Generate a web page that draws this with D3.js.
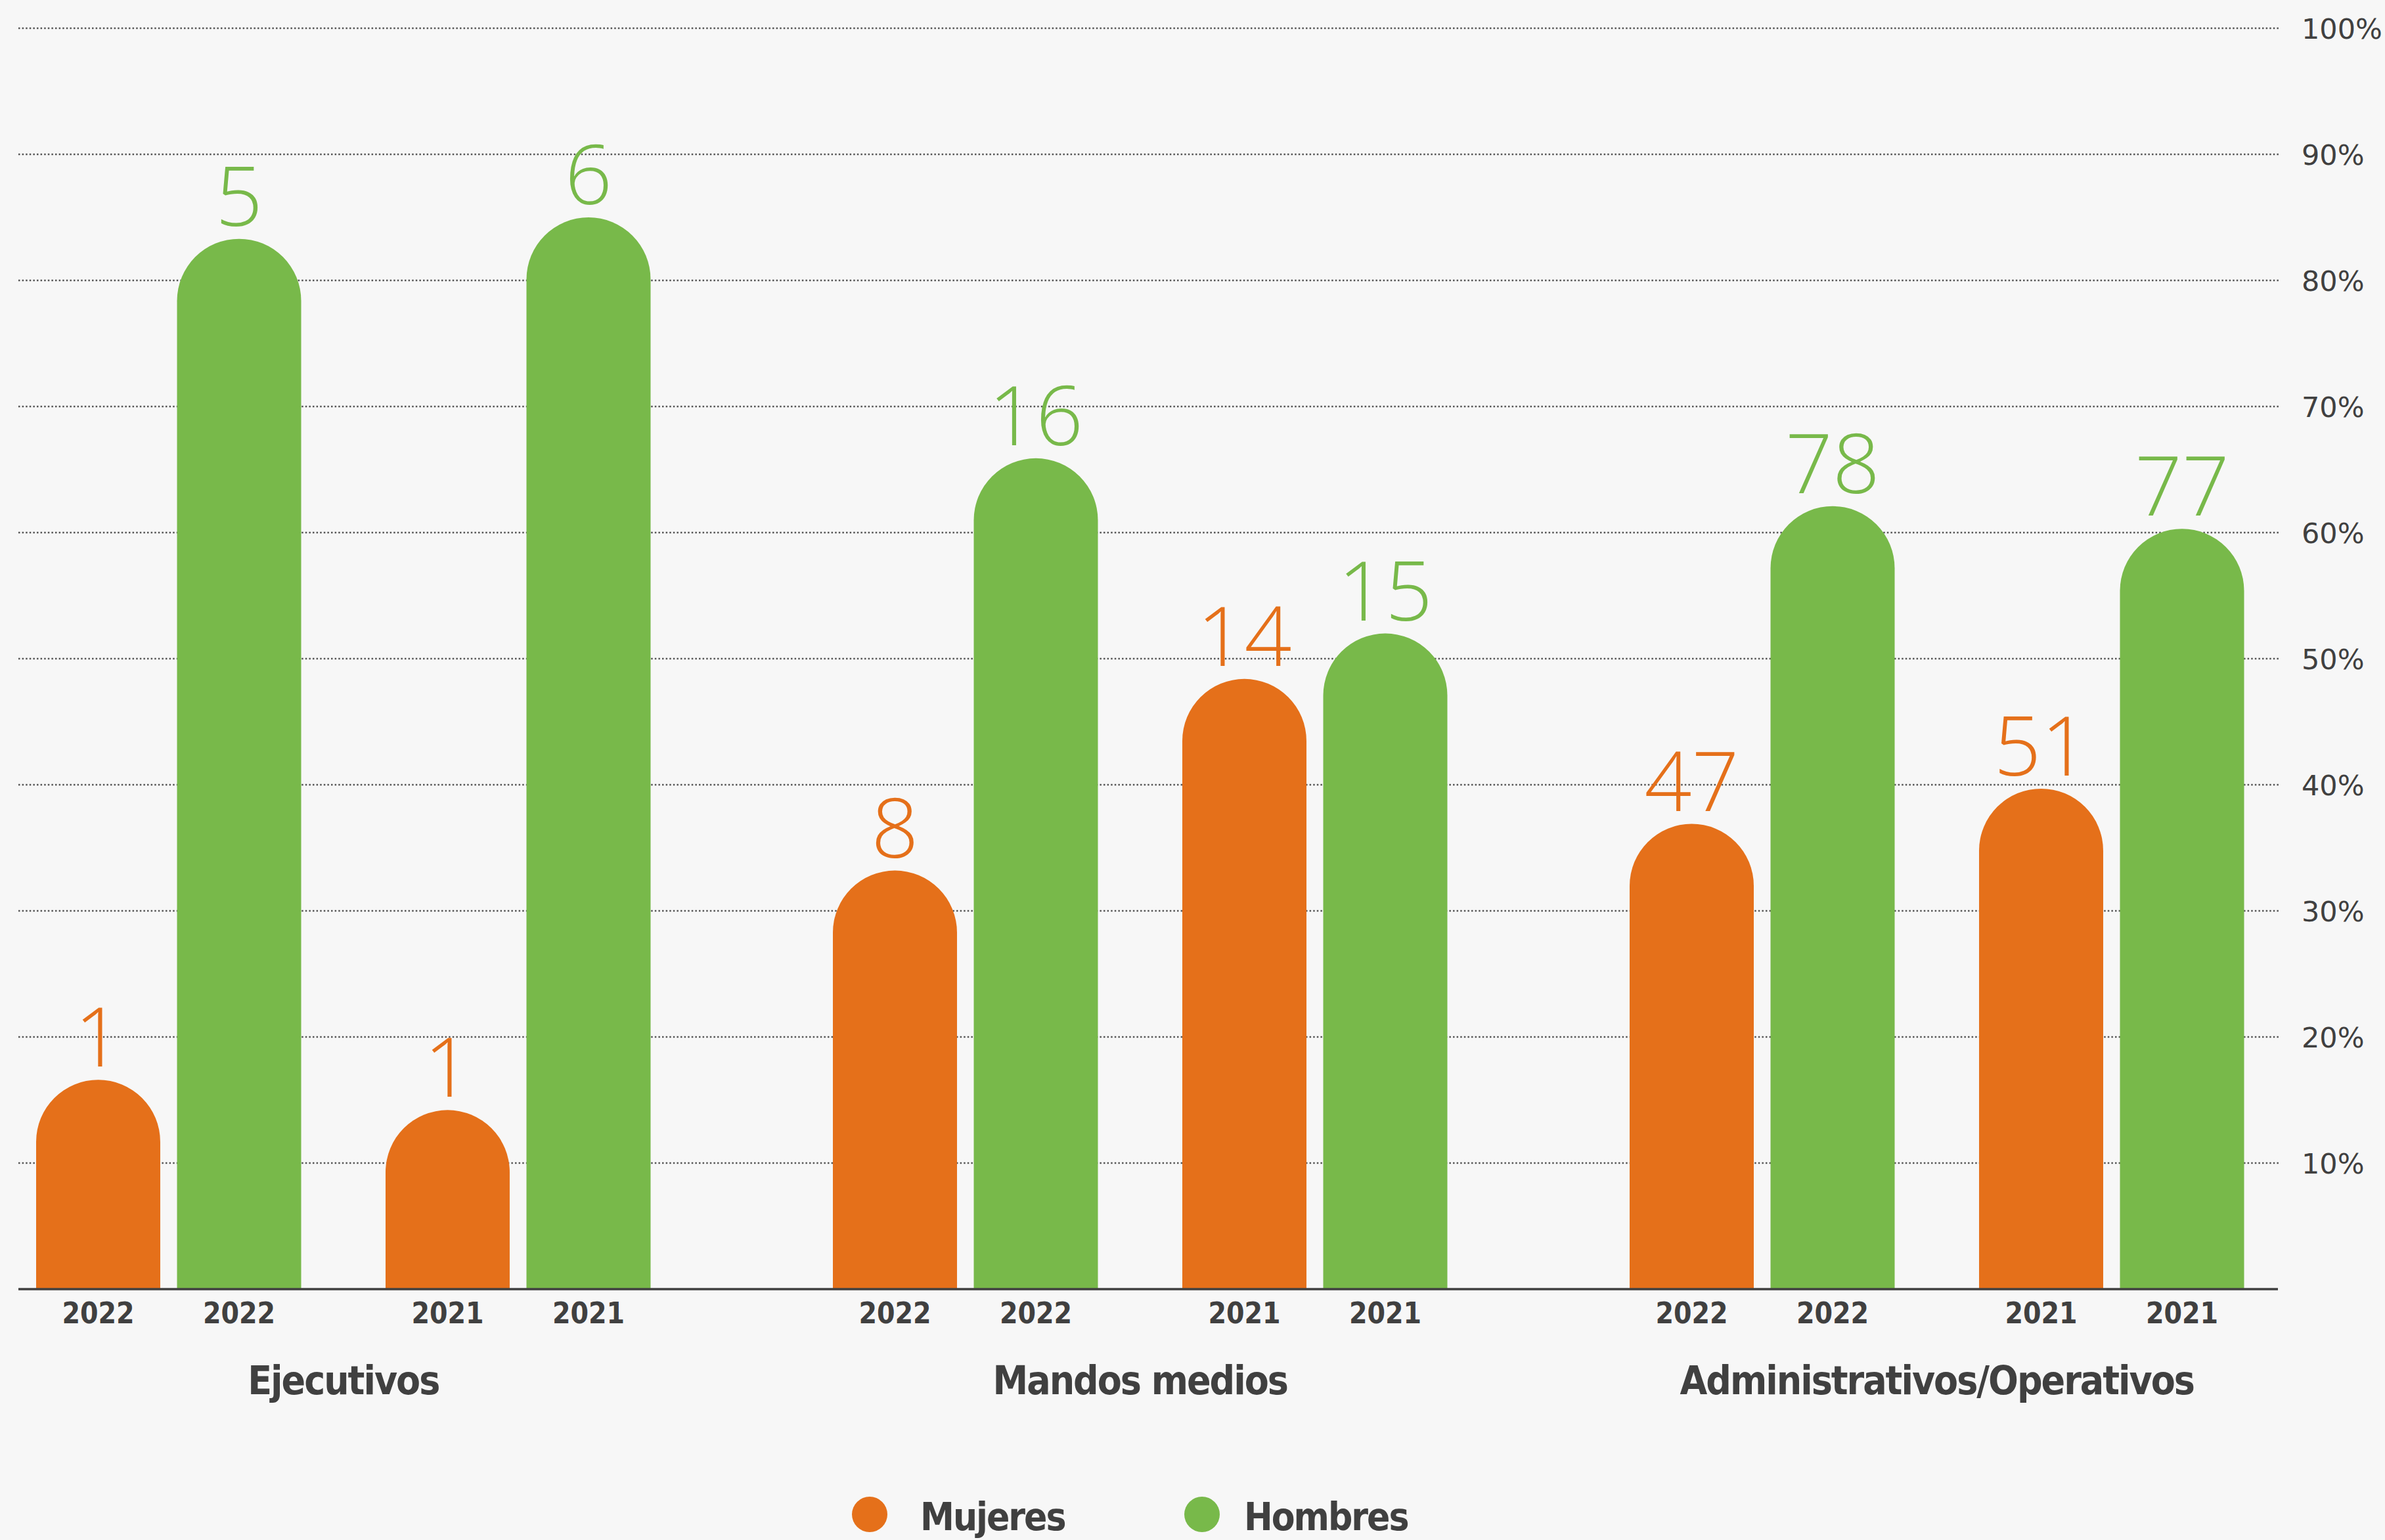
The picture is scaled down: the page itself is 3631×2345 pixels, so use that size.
<!DOCTYPE html>
<html>
<head>
<meta charset="utf-8">
<script src="https://cdn.jsdelivr.net/npm/d3@7"></script>
<style>
    body{ margin: 0; background: #f7f7f7; }
    #graph{ width: 3631px; height: 2345px; }
</style>
</head>
<body>
<div id="graph"></div>
<script>
//Groups along the x axis
const groups = ["Ejecutivos", "Mandos medios", "Administrativos/Operativos"];
//Years inside each group
const years = ["2022", "2021"];
//The two series
const series = ["Mujeres", "Hombres"];

//Bar heights in percent (group by group, 2022 then 2021)
const mujeres_pct = [16.6, 14.2, 33.2, 48.4, 36.9, 39.7];
const hombres_pct = [83.3, 85.0, 65.9, 52.0, 62.1, 60.3];
//Numbers printed above each bar
const mujeres_num = [1, 1, 8, 14, 47, 51];
const hombres_num = [5, 6, 16, 15, 78, 77];

//Right axis ticks
const y_ticks = [10, 20, 30, 40, 50, 60, 70, 80, 90, 100];

const colours = {"Mujeres": "#e5701a", "Hombres": "#78b94a"};
const dark = "#404040";

const width = 3631;
const height = 2345;

const svg = d3.select('#graph')
              .append('svg')
              .attr('width', width)
              .attr('height', height);

svg.append('rect')
   .attr('width', width)
   .attr('height', height)
   .attr('fill', '#f7f7f7');

//y scale: 0% sits on the base line, 100% on the top grid line
const y = d3.scaleLinear().domain([0, 100]).range([1963, 43]);

//nested band scales: group -> year -> sex
const x_group = d3.scaleBand().domain(groups).range([55, 55 + 3 * 1213]);
const x_year = d3.scaleBand().domain(years).range([0, 935.5]).paddingInner(0.2415);
const x_sex = d3.scaleBand().domain(series).range([0, 403.5]).paddingInner(0.119);

//build one record per bar
let bars = [];
for(let g = 0; g < groups.length; g++){
    for(let k = 0; k < years.length; k++){
        let i = g * years.length + k;
        bars.push({group: groups[g], year: years[k], sex: "Mujeres", pct: mujeres_pct[i], num: mujeres_num[i]});
        bars.push({group: groups[g], year: years[k], sex: "Hombres", pct: hombres_pct[i], num: hombres_num[i]});
    }
}
const barX = (d) => x_group(d.group) + x_year(d.year) + x_sex(d.sex);
const bw = x_sex.bandwidth();

//dotted grid lines
const grid = svg.append('g');
grid.selectAll('line')
    .data(y_ticks)
    .enter()
    .append('line')
    .attr('x1', 28)
    .attr('x2', 3470)
    .attr('y1', (d) => y(d))
    .attr('y2', (d) => y(d))
    .attr('stroke', '#555')
    .attr('stroke-width', 2.5)
    .attr('stroke-dasharray', '2.5,3.1');

//right hand axis labels
const axis = svg.append('g')
                .attr('transform', 'translate(3504,0)')
                .call(d3.axisRight(y).tickValues(y_ticks).tickSize(0).tickPadding(0).tickFormat((d) => d + '%'));
axis.select('.domain').remove();
axis.selectAll('text')
    .attr('fill', dark)
    .attr('font-family', 'DejaVu Sans')
    .attr('font-size', 43)
    .attr('dy', '0.36em');

//bars with a round top
const barPath = (d) => {
    let x0 = barX(d);
    let r = bw / 2;
    let top = y(d.pct);
    return `M${x0},${y(0)} V${top + r} A${r},${r} 0 0 1 ${x0 + bw},${top + r} V${y(0)} Z`;
};

svg.append('g')
   .selectAll('path')
   .data(bars)
   .enter()
   .append('path')
   .attr('d', barPath)
   .attr('fill', (d) => colours[d.sex]);

//value labels
svg.append('g')
   .selectAll('text')
   .data(bars)
   .enter()
   .append('text')
   .text((d) => d.num)
   .attr('x', (d) => barX(d) + bw / 2)
   .attr('y', (d) => y(d.pct) - 20)
   .attr('text-anchor', 'middle')
   .attr('font-family', 'Open Sans, Lato, sans-serif')
   .attr('font-weight', 300)
   .attr('font-size', 126)
   .attr('fill', (d) => colours[d.sex]);

//base line
svg.append('line')
   .attr('x1', 28)
   .attr('x2', 3468)
   .attr('y1', y(0))
   .attr('y2', y(0))
   .attr('stroke', dark)
   .attr('stroke-width', 3.5);

//year under each bar
svg.append('g')
   .selectAll('text')
   .data(bars)
   .enter()
   .append('text')
   .text((d) => d.year)
   .attr('x', (d) => barX(d) + bw / 2)
   .attr('y', 2015)
   .attr('text-anchor', 'middle')
   .attr('font-family', 'DejaVu Sans Condensed, DejaVu Sans')
   .attr('font-weight', 'bold')
   .attr('font-size', 44)
   .attr('fill', dark);

//group names
svg.append('g')
   .selectAll('text')
   .data(groups)
   .enter()
   .append('text')
   .text((d) => d)
   .attr('x', (d) => x_group(d) + 935.5 / 2)
   .attr('y', 2123)
   .attr('text-anchor', 'middle')
   .attr('font-family', 'DejaVu Sans Condensed, DejaVu Sans')
   .attr('font-weight', 'bold')
   .attr('font-size', 60)
   .attr('letter-spacing', -2)
   .attr('fill', dark);

//legend
const legend_x = d3.scaleOrdinal().domain(series).range([1324, 1830]);
const legend = svg.append('g')
                  .selectAll('g')
                  .data(series)
                  .enter()
                  .append('g')
                  .attr('transform', (d) => `translate(${legend_x(d)},2306)`);
legend.append('circle')
      .attr('r', 27)
      .attr('fill', (d) => colours[d]);
legend.append('text')
      .text((d) => d)
      .attr('x', (d) => d == "Mujeres" ? 77 : 64)
      .attr('y', 24)
      .attr('font-family', 'DejaVu Sans Condensed, DejaVu Sans')
      .attr('font-weight', 'bold')
      .attr('font-size', 58)
      .attr('letter-spacing', -2)
      .attr('fill', dark);
</script>
</body>
</html>
